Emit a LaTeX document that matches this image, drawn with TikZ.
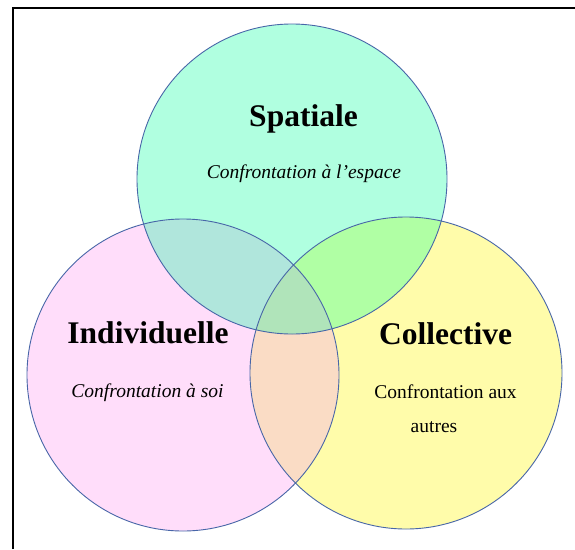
\documentclass[tikz,border=0pt]{standalone}
\usepackage{fontspec}
\setmainfont{Liberation Serif}
\definecolor{mint}{RGB}{176,255,224}
\definecolor{pinkc}{RGB}{255,221,250}
\definecolor{yellowc}{RGB}{255,252,170}
\definecolor{tealc}{RGB}{176,230,220}
\definecolor{greenc}{RGB}{176,255,164}
\definecolor{peachc}{RGB}{250,220,197}
\definecolor{centerc}{RGB}{176,228,186}
\definecolor{edgec}{RGB}{72,102,168}
\tikzset{
  title/.style={anchor=base, inner sep=0pt, font=\fontsize{31.5}{36}\selectfont\bfseries},
  subit/.style={anchor=base, inner sep=0pt, font=\fontsize{19.5}{23}\selectfont\itshape},
  subrm/.style={anchor=base, inner sep=0pt, font=\fontsize{19.5}{23}\selectfont},
  ring/.style={draw=edgec, line width=0.9pt},
  frame/.style={draw=black, line width=2pt}
}
\begin{document}
\begin{tikzpicture}[x=1pt,y=-1pt]
\useasboundingbox (0,0) rectangle (575,549);
\fill[white] (0,0) rectangle (575,549);
\coordinate (cT) at (292,179);
\coordinate (cL) at (183,375);
\coordinate (cR) at (406,373);
% base fills
\fill[pinkc] (cL) circle (156pt);
\fill[yellowc] (cR) circle (156pt);
\fill[mint] (cT) circle (155pt);
% overlaps
\begin{scope}
  \clip (cL) circle (156pt);
  \fill[peachc] (cR) circle (156pt);
\end{scope}
\begin{scope}
  \clip (cT) circle (155pt);
  \fill[tealc] (cL) circle (156pt);
  \fill[greenc] (cR) circle (156pt);
  \clip (cL) circle (156pt);
  \fill[centerc] (cR) circle (156pt);
\end{scope}
% outlines
\draw[ring] (cL) circle (156pt);
\draw[ring] (cR) circle (156pt);
\draw[ring] (cT) circle (155pt);
% frame
\coordinate (fA) at (13,549);
\coordinate (fB) at (13,7.5);
\coordinate (fC) at (575,7.5);
\draw[frame] (fA) -- (fB) -- (fC);
% texts
\node[title] (tS) at (303.5,126) {Spatiale};
\node[subit] (sS) at (304,178) {Confrontation à l’espace};
\node[title] (tI) at (148,343) {Individuelle};
\node[subit] (sI) at (147.5,397) {Confrontation à soi};
\node[title] (tC) at (445.5,344) {Collective};
\node[subrm] (sC1) at (445.5,398) {Confrontation aux};
\node[subrm] (sC2) at (434,432) {autres};
\end{tikzpicture}
\end{document}
